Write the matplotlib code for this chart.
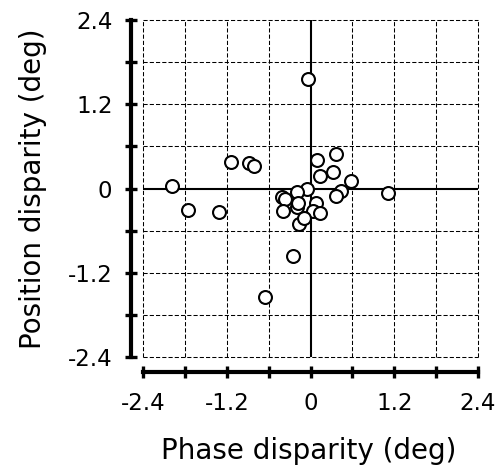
import matplotlib
matplotlib.use("Agg")
import matplotlib.pyplot as plt

# phase vs position disparity for each cell (deg)
phase = [-0.03, -1.14, -0.88, -0.81, -1.98, -1.75, -1.31, -0.25, -0.65, 1.11,
         0.10, 0.37, 0.13, 0.32, 0.58, 0.43, 0.37, -0.05, -0.19, -0.41,
         -0.36, -0.39, -0.20, -0.18, 0.08, 0.03, 0.13, -0.16, -0.10]
position = [1.56, 0.38, 0.37, 0.32, 0.03, -0.31, -0.34, -0.96, -1.54, -0.07,
            0.41, 0.49, 0.18, 0.23, 0.11, -0.03, -0.11, -0.01, -0.05, -0.12,
            -0.15, -0.32, -0.26, -0.20, -0.20, -0.32, -0.35, -0.51, -0.42]

major = [-2.4, -1.2, 0, 1.2, 2.4]
major_labels = ["-2.4", "-1.2", "0", "1.2", "2.4"]
minor = [-1.8, -0.6, 0.6, 1.8]
grid = [-2.4, -1.8, -1.2, -0.6, 0.6, 1.2, 1.8, 2.4]

plt.rcParams['font.family'] = ['DejaVu Sans']

fig = plt.figure(figsize=(4.99, 4.72), dpi=100)
ax = fig.add_axes([143 / 499, 1 - 357 / 472, 335 / 499, 337 / 472])

# dashed grid, including the box edges
for g in grid:
    ax.axvline(g, color='black', lw=0.75, ls=(0, (4, 2)), clip_on=False, zorder=1)
    ax.axhline(g, color='black', lw=0.75, ls=(0, (4, 2)), clip_on=False, zorder=1)
ax.axvline(0, color='black', lw=1.5, zorder=2)
ax.axhline(0, color='black', lw=1.5, zorder=2)

ax.plot(phase, position, 'o', ms=9.3, mfc='white', mec='black', mew=1.5,
        zorder=3, clip_on=False)

ax.set_xlim(-2.4, 2.4)
ax.set_ylim(-2.4, 2.4)

for side in ['top', 'right']:
    ax.spines[side].set_visible(False)
ax.spines['left'].set_position(('outward', 8.5))
ax.spines['bottom'].set_position(('outward', 10.5))
for side in ['left', 'bottom']:
    ax.spines[side].set_bounds(-2.4, 2.4)
    ax.spines[side].set_linewidth(3)

ax.set_xticks(major)
ax.set_xticklabels(major_labels)
ax.set_yticks(major)
ax.set_yticklabels(major_labels)
ax.set_xticks(minor, minor=True)
ax.set_yticks(minor, minor=True)
ax.tick_params(which='both', direction='inout', length=9, width=2.4)
ax.tick_params(axis='x', which='major', labelsize=16.5, pad=10)
ax.tick_params(axis='y', which='major', labelsize=16.5, pad=9)

ax.set_xlabel('Phase disparity (deg)', fontsize=20)
ax.set_ylabel('Position disparity (deg)', fontsize=20)
ax.xaxis.set_label_coords(0.495, -0.237)
ax.yaxis.set_label_coords(-0.287, 0.5)

fig.savefig('out.png', dpi=100)
